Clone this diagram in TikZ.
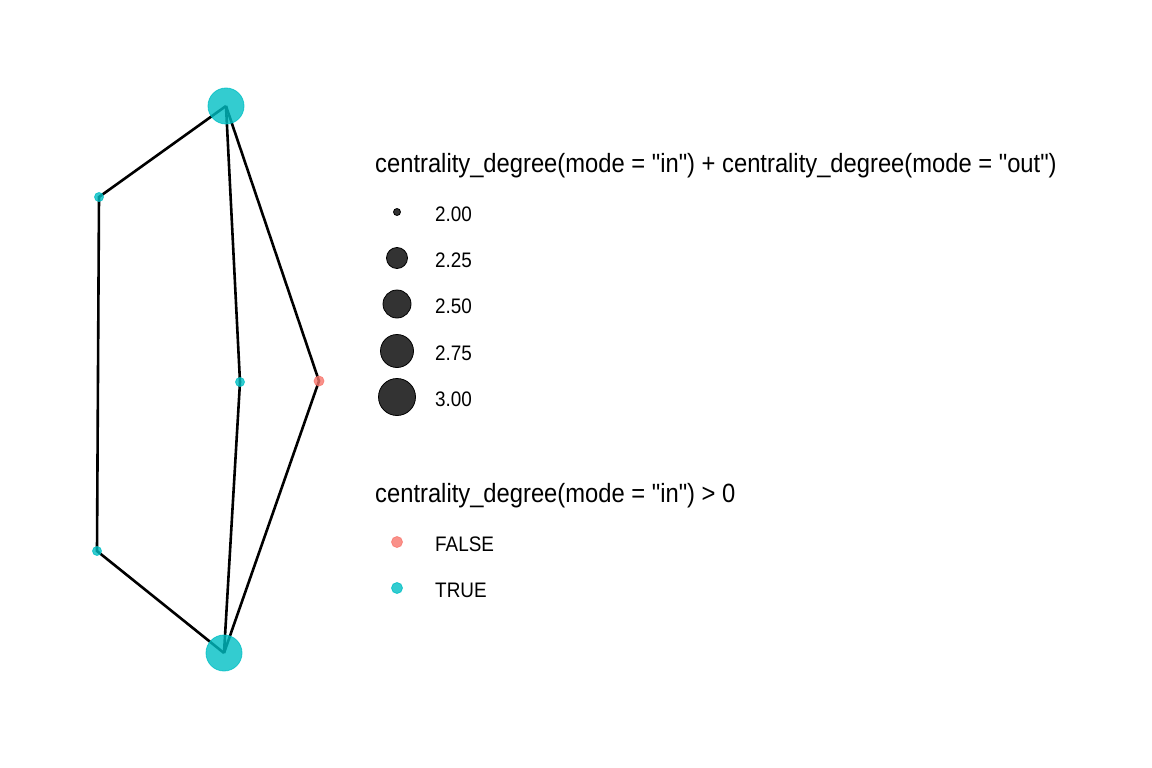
\documentclass[tikz,border=0pt]{standalone}
\usepackage{fontspec}
\setmainfont[FakeStretch=0.9,Ligatures=TeXOff]{Liberation Sans}
\usetikzlibrary{backgrounds}
\definecolor{cT}{HTML}{00BFC4}
\definecolor{cR}{HTML}{F8766D}
\tikzset{
  vtx/.style={circle,inner sep=0pt,fill opacity=.8,draw opacity=.8,line width=.8pt},
  tvtx/.style={vtx,fill=cT,draw=cT},
  fvtx/.style={vtx,fill=cR,draw=cR},
  link/.style={line width=2.6pt,black},
  key/.style={circle,inner sep=0pt,fill=black!80,draw=black,line width=.8pt},
  ttl/.style={anchor=base west,inner sep=0pt,font=\fontsize{26.4}{30}\selectfont},
  lbl/.style={anchor=base west,inner sep=0pt,font=\fontsize{21}{25}\selectfont},
}

\begin{document}
\begin{tikzpicture}[x=1pt,y=-1pt]
  \useasboundingbox (0,0) rectangle (1152,768);
  % graph: two hubs, four small vertices
  \node[tvtx,minimum size=36pt] (top) at (226,106){};
  \node[tvtx,minimum size=36pt] (bot) at (224,653){};
  \node[tvtx,minimum size=9pt] (lt) at (99,197){};
  \node[tvtx,minimum size=9pt] (lb) at (97,551){};
  \node[tvtx,minimum size=9pt] (mid) at (240,382){};
  \node[fvtx,minimum size=10pt] (red) at (319,381){};
  \begin{scope}[on background layer]
   \draw[link] (top.center)--(lt.center)--(lb.center)--(bot.center);
   \draw[link] (top.center)--(mid.center)--(bot.center);
   \draw[link] (top.center)--(red.center)--(bot.center);
  \end{scope}
  % size legend
  \node[ttl] (sizettl) at (375,172)
    {centrality\_degree(mode = "in") + centrality\_degree(mode = "out")};
  \foreach \v/\y/\d [count=\i] in {2.00/212/7,2.25/258/21,2.50/304/28,
                                   2.75/351/33,3.00/397/37}{
   \node[key,minimum size=\d pt] (k\i) at (397,\y){};
   \node[lbl] (l\i) at (435,\y+9.5){\v};
  }
  % colour legend
  \node[ttl] (colttl) at (375,502) {centrality\_degree(mode = "in") > 0};
  \node[fvtx,minimum size=11pt] (kf) at (397,542){};
  \node[lbl] (lf) at (435,551.5){FALSE};
  \node[tvtx,minimum size=11pt] (kt) at (397,588){};
  \node[lbl] (lt2) at (435,597.5){TRUE};
\end{tikzpicture}
\end{document}
